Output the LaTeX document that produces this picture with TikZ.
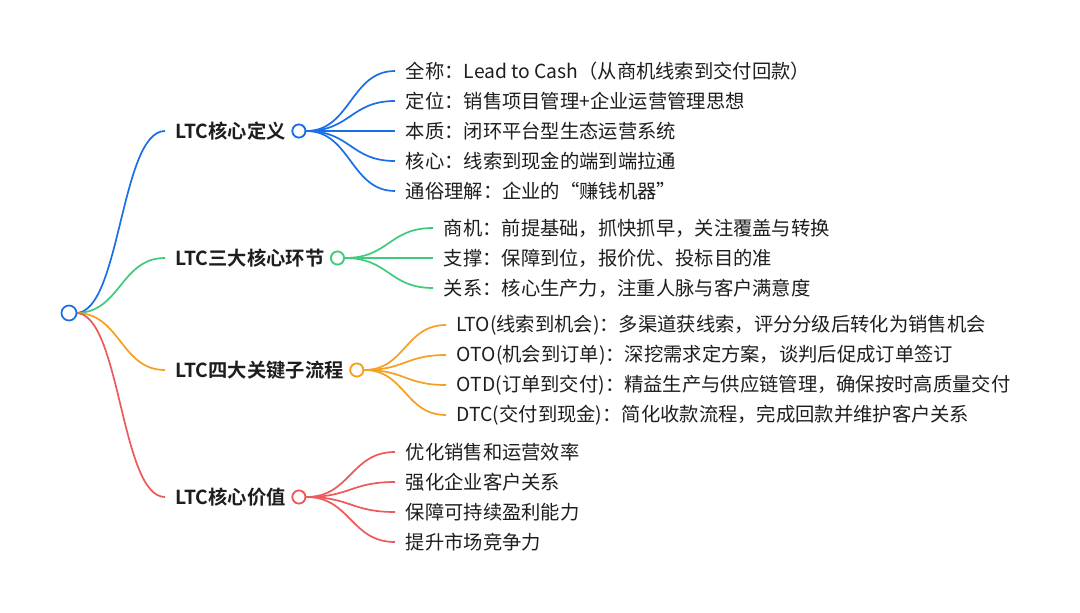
\documentclass[tikz,border=0pt]{standalone}
\usepackage{fontspec}
\setmainfont{Noto Sans CJK SC}[BoldFont={Noto Sans CJK SC Bold}]
\usetikzlibrary{positioning,calc}

\definecolor{cblue}{HTML}{1A6FE6}
\definecolor{cgreen}{HTML}{3FCB7C}
\definecolor{corange}{HTML}{F5A020}
\definecolor{cred}{HTML}{EC5A5A}
\definecolor{ink}{HTML}{1E1E1E}

\tikzset{
  curve/.style={to path={let \p1=(\tikztostart), \p2=(\tikztotarget) in
      .. controls ({(\x1+\x2)/2},\y1) and ({(\x1+\x2)/2},\y2) .. (\tikztotarget) \tikztonodes}},
  dot/.style={circle, draw, fill=white, inner sep=0pt, minimum size=#1},
  topic/.style={anchor=west, inner xsep=10pt, inner ysep=0pt, text=ink, font=\fontsize{19.3}{23}\selectfont\bfseries},
  leaf/.style={anchor=west, inner xsep=10pt, inner ysep=0pt, text=ink}
}

\begin{document}
\begin{tikzpicture}[x=1pt,y=-1pt,line width=1.7pt,font=\fontsize{19.3}{23}\selectfont]
    \useasboundingbox[fill=white] (0,0) rectangle (1080,613);

    % main topics
    \node[topic] (def)   at (165,131) {LTC核心定义};
    \node[topic] (link)  at (165,258) {LTC三大核心环节};
    \node[topic] (proc)  at (165,370) {LTC四大关键子流程};
    \node[topic] (value) at (165,497) {LTC核心价值};

    % details
    \node[leaf] (d1) at (395,71)  {全称：Lead to Cash（从商机线索到交付回款）};
    \node[leaf] (d2) at (395,101) {定位：销售项目管理+企业运营管理思想};
    \node[leaf] (d3) at (395,131) {本质：闭环平台型生态运营系统};
    \node[leaf] (d4) at (395,161) {核心：线索到现金的端到端拉通};
    \node[leaf] (d5) at (395,191) {通俗理解：企业的“赚钱机器”};

    \node[leaf] (l1) at (433,228) {商机：前提基础，抓快抓早，关注覆盖与转换};
    \node[leaf] (l2) at (433,258) {支撑：保障到位，报价优、投标目的准};
    \node[leaf] (l3) at (433,288) {关系：核心生产力，注重人脉与客户满意度};

    \node[leaf] (p1) at (446,325) {LTO(线索到机会)：多渠道获线索，评分分级后转化为销售机会};
    \node[leaf] (p2) at (446,355) {OTO(机会到订单)：深挖需求定方案，谈判后促成订单签订};
    \node[leaf] (p3) at (446,385) {OTD(订单到交付)：精益生产与供应链管理，确保按时高质量交付};
    \node[leaf] (p4) at (446,415) {DTC(交付到现金)：简化收款流程，完成回款并维护客户关系};

    \node[leaf] (v1) at (395,452) {优化销售和运营效率};
    \node[leaf] (v2) at (395,482) {强化企业客户关系};
    \node[leaf] (v3) at (395,512) {保障可持续盈利能力};
    \node[leaf] (v4) at (395,542) {提升市场竞争力};

    % connectors
    \coordinate (r) at (76,313);
    \draw[cblue]   (r) to[curve] (def.west);
    \draw[cgreen]  (r) to[curve] (link.west);
    \draw[corange] (r) to[curve] (proc.west);
    \draw[cred]    (r) to[curve] (value.west);

    \node[dot=13pt, draw=cblue,   right=-5pt of def]   (cdef) {};
    \node[dot=13pt, draw=cgreen,  right=-5pt of link]  (clink) {};
    \node[dot=13pt, draw=corange, right=-5pt of proc]  (cproc) {};
    \node[dot=13pt, draw=cred,    right=-5pt of value] (cvalue) {};

    \foreach \i in {1,...,5} \draw[cblue] (cdef.east) to[curve] (d\i.west);
    \foreach \i in {1,...,3} \draw[cgreen] (clink.east) to[curve] (l\i.west);
    \foreach \i in {1,...,4} \draw[corange] (cproc.east) to[curve] (p\i.west);
    \foreach \i in {1,...,4} \draw[cred] (cvalue.east) to[curve] (v\i.west);

    % redraw dots on top
    \node[dot=13pt, draw=cblue]   at (cdef) {};
    \node[dot=13pt, draw=cgreen]  at (clink) {};
    \node[dot=13pt, draw=corange] at (cproc) {};
    \node[dot=13pt, draw=cred]    at (cvalue) {};
    \node[dot=15pt, draw=cblue] (root) at (69,313) {};
\end{tikzpicture}
\end{document}
